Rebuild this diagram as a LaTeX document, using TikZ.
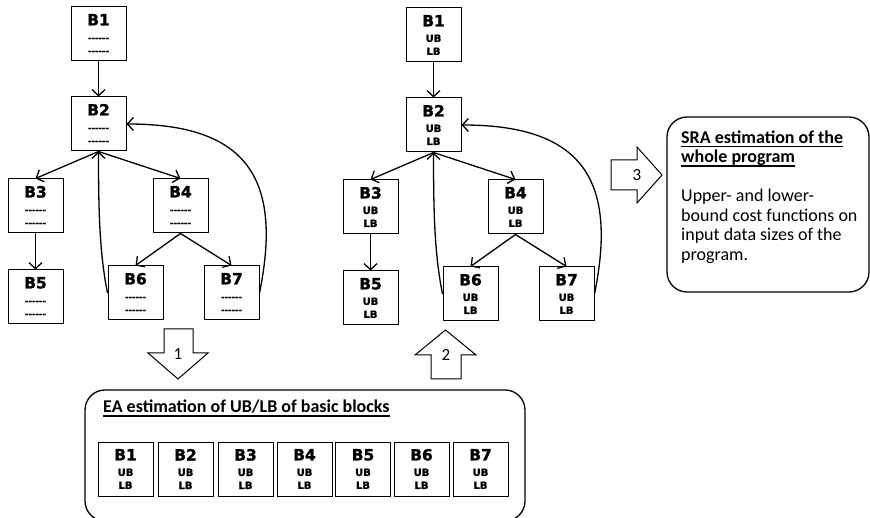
\documentclass[tikz,border=0pt]{standalone}
\usepackage{fontspec}
\setmainfont{Carlito}
\newfontfamily\blkfont{DejaVu Sans}[BoldFeatures={FakeBold=1.5}]
\usetikzlibrary{arrows.meta}

\newcommand\dashrow{{\fontsize{8.5}{13}\selectfont-\kern0pt-\kern0pt-\kern0pt-\kern0pt-\kern0pt-}}
\newcommand\bname[1]{{\fontsize{15.5}{15.5}\selectfont #1}\\[2.5pt]}
\newcommand\undl[1]{\setbox0=\hbox{#1}\rlap{\rule[-3.8pt]{\wd0}{1.3pt}}\box0}

\tikzset{
  blk/.style={draw, line width=1pt, minimum width=55, minimum height=54,
    inner sep=0pt, align=center, font=\blkfont\bfseries\fontsize{10}{13}\selectfont},
  edge/.style={line width=1.3pt, -{Straight Barb[length=6pt,width=13pt,line width=1.3pt]}},
  panel/.style={draw, line width=1.3pt, rounded corners=20},
  bigarrow/.style={draw, line width=1pt, fill=white},
  num/.style={inner sep=0pt, font=\fontsize{17}{17}\selectfont},
  paneltext/.style={inner sep=0pt, align=left, font=\fontsize{18}{19.5}\selectfont},
}

\begin{document}
\begin{tikzpicture}[x=1pt,y=-1pt]
\useasboundingbox (0,0) rectangle (870,518);

% control flow graph, no estimates yet
\node[blk] (L1) at (98.5,34)  {\bname{B1}\dashrow\\\dashrow};
\node[blk] (L2) at (98.5,124) {\bname{B2}\dashrow\\\dashrow};
\node[blk] (L3) at (35.5,206) {\bname{B3}\dashrow\\\dashrow};
\node[blk] (L4) at (180.5,206) {\bname{B4}\dashrow\\\dashrow};
\node[blk] (L5) at (35.5,297) {\bname{B5}\dashrow\\\dashrow};
\node[blk] (L6) at (135.5,293) {\bname{B6}\dashrow\\\dashrow};
\node[blk] (L7) at (231.5,293) {\bname{B7}\dashrow\\\dashrow};

\draw[edge] (L1.south) -- (L2.north);
\draw[edge] (L2.south) -- (L3.north);
\draw[edge] (L2.south) -- (L4.north);
\draw[edge] (L3.south) -- (L5.north);
\draw[edge] (L4.south) -- (L6.north);
\draw[edge] (L4.south) -- (L7.north);
\draw[edge] (L6.west) .. controls +(-8,-40) and +(0,60) .. (L2.south);
\draw[edge] (L7.east) .. controls +(23,-113) and +(122,0) .. (L2.east);

% same graph with UB/LB per block
\node[blk] (M1) at (433.5,35)  {\bname{B1}UB\\LB};
\node[blk] (M2) at (433.5,125) {\bname{B2}UB\\LB};
\node[blk] (M3) at (370.5,207) {\bname{B3}UB\\LB};
\node[blk] (M4) at (515.5,207) {\bname{B4}UB\\LB};
\node[blk] (M5) at (370.5,298) {\bname{B5}UB\\LB};
\node[blk] (M6) at (470.5,294) {\bname{B6}UB\\LB};
\node[blk] (M7) at (566.5,294) {\bname{B7}UB\\LB};

\draw[edge] (M1.south) -- (M2.north);
\draw[edge] (M2.south) -- (M3.north);
\draw[edge] (M2.south) -- (M4.north);
\draw[edge] (M3.south) -- (M5.north);
\draw[edge] (M4.south) -- (M6.north);
\draw[edge] (M4.south) -- (M7.north);
\draw[edge] (M6.west) .. controls +(-8,-40) and +(0,60) .. (M2.south);
\draw[edge] (M7.east) .. controls +(23,-113) and +(122,0) .. (M2.east);

% step arrows
\draw[bigarrow] (164,329) -- (193,329) -- (193,353) -- (208,353) -- (178,379)
  -- (148,353) -- (164,353) -- cycle;
\node[num] (step1) at (178,354) {1};
\draw[bigarrow] (431,379) -- (461,379) -- (461,355) -- (476,355) -- (445.5,330)
  -- (415,355) -- (431,355) -- cycle;
\node[num] (step2) at (446,354.5) {2};
\draw[bigarrow] (611,160) -- (637,160) -- (637,147) -- (662,175) -- (637,203)
  -- (637,190) -- (611,190) -- cycle;
\node[num] (step3) at (637,175) {3};

% SRA panel
\draw[panel] (667,117) rectangle (869,292);
\node[paneltext, anchor=north west] (sra) at (681,130.5)
  {\undl{\textbf{SRA estimation of the}}\\\undl{\textbf{whole program}}\\[19.5pt]
   Upper- and lower-\\bound cost functions on\\input data sizes of the\\program.};

% EA panel
\draw[panel] (85,390) rectangle (525,521);
\node[paneltext, anchor=base west] (ea) at (103,413)
  {\undl{\textbf{EA estimation of UB/LB of basic blocks}}};
\node[blk] (E1) at (125.5,469) {\bname{B1}UB\\LB};
\node[blk] (E2) at (185.5,469) {\bname{B2}UB\\LB};
\node[blk] (E3) at (245.5,469) {\bname{B3}UB\\LB};
\node[blk] (E4) at (304.5,469) {\bname{B4}UB\\LB};
\node[blk] (E5) at (363,469)   {\bname{B5}UB\\LB};
\node[blk] (E6) at (421.5,469) {\bname{B6}UB\\LB};
\node[blk] (E7) at (480.5,469) {\bname{B7}UB\\LB};

\end{tikzpicture}
\end{document}
